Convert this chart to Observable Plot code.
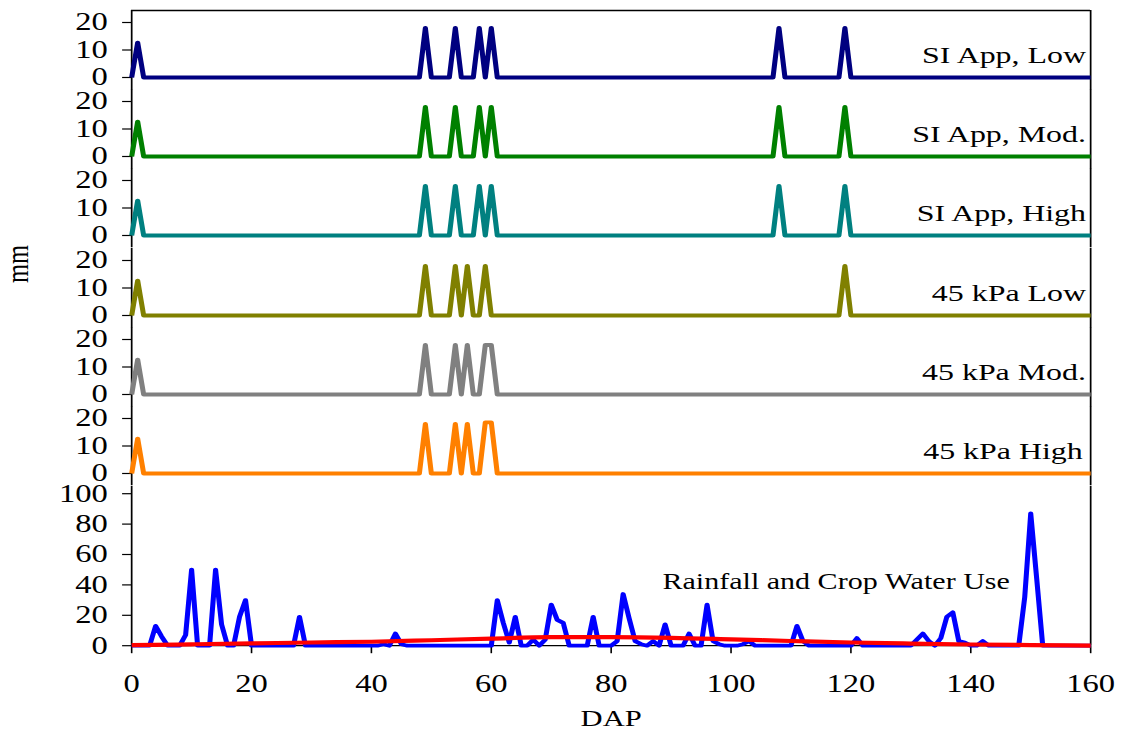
<!DOCTYPE html>
<html><head><meta charset="utf-8">
<script src="https://cdn.jsdelivr.net/npm/d3@7"></script>
<script src="https://cdn.jsdelivr.net/npm/@observablehq/plot@0.6"></script>
<style>
html,body{margin:0;padding:0;background:#fff;}
#wrap{position:relative;width:1121px;height:731px;overflow:hidden;background:#fff;}
#chart{position:absolute;left:0;top:0;width:843px;height:731px;transform-origin:0 0;}
#chart svg{position:absolute;left:0;overflow:visible;background:transparent;}
#ylab{position:absolute;font-family:"Liberation Serif","Times New Roman",serif;font-size:24.4px;line-height:1;white-space:nowrap;transform:translate(-50%,-50%) rotate(-90deg);}
</style></head><body>
<div id="wrap"><div id="chart"><div id="ylab">mm</div></div></div>
<script>
// ---------- data ----------
const seriesNames = ["SI App, Low", "SI App, Mod.", "SI App, High", "45 kPa Low", "45 kPa Mod.", "45 kPa High"];
const seriesColors = ["#000080", "#008000", "#008080", "#808000", "#808080", "#FF8000"];
// irrigation events [DAP, mm]; all other days are 0
const siLow   = [[1,12.7],[49,18],[54,18],[58,18],[60,18],[108,18],[119,18]];
const siMod   = [[1,12.7],[49,18],[54,18],[58,18],[60,18],[108,18],[119,18]];
const siHigh  = [[1,12.7],[49,18],[54,18],[58,18],[60,18],[108,18],[119,18]];
const kpaLow  = [[1,12.7],[49,18],[54,18],[56,18],[59,18],[119,18]];
const kpaMod  = [[1,12.7],[49,18],[54,18],[56,18],[59,18],[60,18]];
const kpaHigh = [[1,12.7],[49,18],[54,18],[56,18],[59,18.6],[60,18.6]];
// daily rainfall, DAP 0..160
const rainfall = [
 0,0,0,0,13,6,0,0,0,7,
 50,0,0,0,50,14,0,0,19,30,
 0,0,0,0,0,0,0,0,19,0,
 0,0,0,0,0,0,0,0,0,0,
 0,0,1,0,8,1,0,0,0,0,
 0,0,0,0,0,0,0,0,0,0,
 0,30,15,2,19,0,0,4,0,4,
 27,17,15,0,0,0,0,19,0,0,
 0,3,34,18,3,1,0,3,0,14,
 0,0,0,8,0,0,27,3,1,0,
 0,0,1,3,0,0,0,0,0,0,
 0,13,3,0,0,0,0,0,0,0,
 0,5,0,0,0,0,0,0,0,0,
 0,4,8,3,0,5,19,22,3,2,
 0,0,3,0,0,0,0,0,0,32,
 87,44,0,0,0,0,0,0,0,0,
 0];
// crop water use [DAP, mm]
const cropWaterUse = [[0,0.4],[10,0.9],[20,1.5],[30,2.1],[40,2.6],[50,3.6],[60,4.7],[70,5.6],[80,5.6],[90,5.2],[100,4.2],[110,3.1],[120,2.1],[130,1.4],[140,0.8],[150,0.4],[160,0.1]];
const bottomLabel = "Rainfall and Crop Water Use";
const xLabel = "DAP";
const xTicks = [0,20,40,60,80,100,120,140,160];
const irrTicks = [0,10,20];
const rainTicks = [0,20,40,60,80,100];
const xDomain = [0,160];

// ---------- layout ----------
const S = 1121/843;             // horizontal stretch of the original picture
const W = 843;
const ML = 131/S, MR = 31/S;
const Z0 = 76.7, DZ = 79.3, ABOVE = 67, BELOW = 12.3, PX_IRR = 2.75;
const PX_RAIN = 1.52, ZB = 644.7;
const FONT = '"Liberation Serif","Times New Roman",serif';
const chart = document.getElementById("chart");
chart.style.transform = `scaleX(${S})`;

const dap = rainfall.map((_, i) => i);
const irrSeries = [siLow, siMod, siHigh, kpaLow, kpaMod, kpaHigh].map(ev => {
  const m = new Map(ev);
  return dap.map(d => ({dap: d, mm: m.has(d) ? m.get(d) : 0}));
});
const rainData = rainfall.map((v, i) => ({dap: i, mm: v}));
const cwuData = cropWaterUse.map(([d, v]) => ({dap: d, mm: v}));

const baseStyle = {fontFamily: FONT, fontSize: "24.5px", background: "transparent", color: "black", overflow: "visible"};
const ruleOpts = {stroke: "black", strokeWidth: 1.3};

irrSeries.forEach((data, k) => {
  const top = Z0 + k*DZ - ABOVE;
  const marks = [
    Plot.axisY(irrTicks, {anchor: "left", tickSize: 6.7, tickPadding: 11.3, tickFormat: d => d, label: null, strokeWidth: 1.2}),
    Plot.ruleX([xDomain[0]], ruleOpts),
    Plot.ruleX([xDomain[1]], ruleOpts),
    Plot.line(data, {x: "dap", y: "mm", stroke: seriesColors[k], strokeWidth: 3.8, strokeLinecap: "butt", strokeLinejoin: "round"}),
    Plot.text([seriesNames[k]], {text: d => d, frameAnchor: "right", textAnchor: "end", dx: k === 5 ? -6 : -3.5, dy: (ABOVE - 22.5) - (ABOVE + BELOW)/2, fontSize: 24, fill: "black"})
  ];
  if (k === 0) marks.push(Plot.ruleY([ABOVE/PX_IRR], ruleOpts));
  const svg = Plot.plot({
    width: W, height: ABOVE + BELOW,
    marginLeft: ML, marginRight: MR, marginTop: 0, marginBottom: 0,
    x: {domain: xDomain, axis: null},
    y: {domain: [-BELOW/PX_IRR, ABOVE/PX_IRR]},
    style: baseStyle,
    marks
  });
  svg.style.top = top + "px";
  chart.appendChild(svg);
});

// bottom panel
{
  const top = Z0 + 5*DZ + BELOW;
  const H = 731 - top;
  const mb = 731 - ZB;
  const frameH = ZB - top;
  const svg = Plot.plot({
    width: W, height: H,
    marginLeft: ML, marginRight: MR, marginTop: 0, marginBottom: mb,
    x: {domain: xDomain},
    y: {domain: [0, frameH/PX_RAIN]},
    style: baseStyle,
    marks: [
      Plot.axisY(rainTicks, {anchor: "left", tickSize: 6.7, tickPadding: 11.3, tickFormat: d => d, label: null, strokeWidth: 1.2}),
      Plot.axisX(xTicks, {anchor: "bottom", tickSize: 8, tickPadding: 21.3, tickFormat: d => d, label: null, strokeWidth: 1.2}),
      Plot.ruleX([xDomain[0]], ruleOpts),
      Plot.ruleX([xDomain[1]], ruleOpts),
      Plot.ruleY([0], ruleOpts),
      Plot.line(rainData, {x: "dap", y: "mm", stroke: "#0000FF", strokeWidth: 3.8, strokeLinecap: "butt", strokeLinejoin: "round"}),
      Plot.line(cwuData, {x: "dap", y: "mm", stroke: "#FF0000", strokeWidth: 4.2, curve: "monotone-x", strokeLinecap: "butt"}),
      Plot.text([bottomLabel], {text: d => d, frameAnchor: "left", textAnchor: "middle", dx: 835.5/S - ML, dy: 580.5 - (top + ZB)/2, fontSize: 22.6, fill: "black"}),
      Plot.text([xLabel], {text: d => d, frameAnchor: "bottom", textAnchor: "middle", lineAnchor: "middle", dy: 718 - ZB, fontSize: 23, fill: "black"})
    ]
  });
  svg.style.top = top + "px";
  chart.appendChild(svg);
}

const yl = document.getElementById("ylab");
yl.style.left = (17.5/S) + "px";
yl.style.top = "264px";
</script>
</body></html>
